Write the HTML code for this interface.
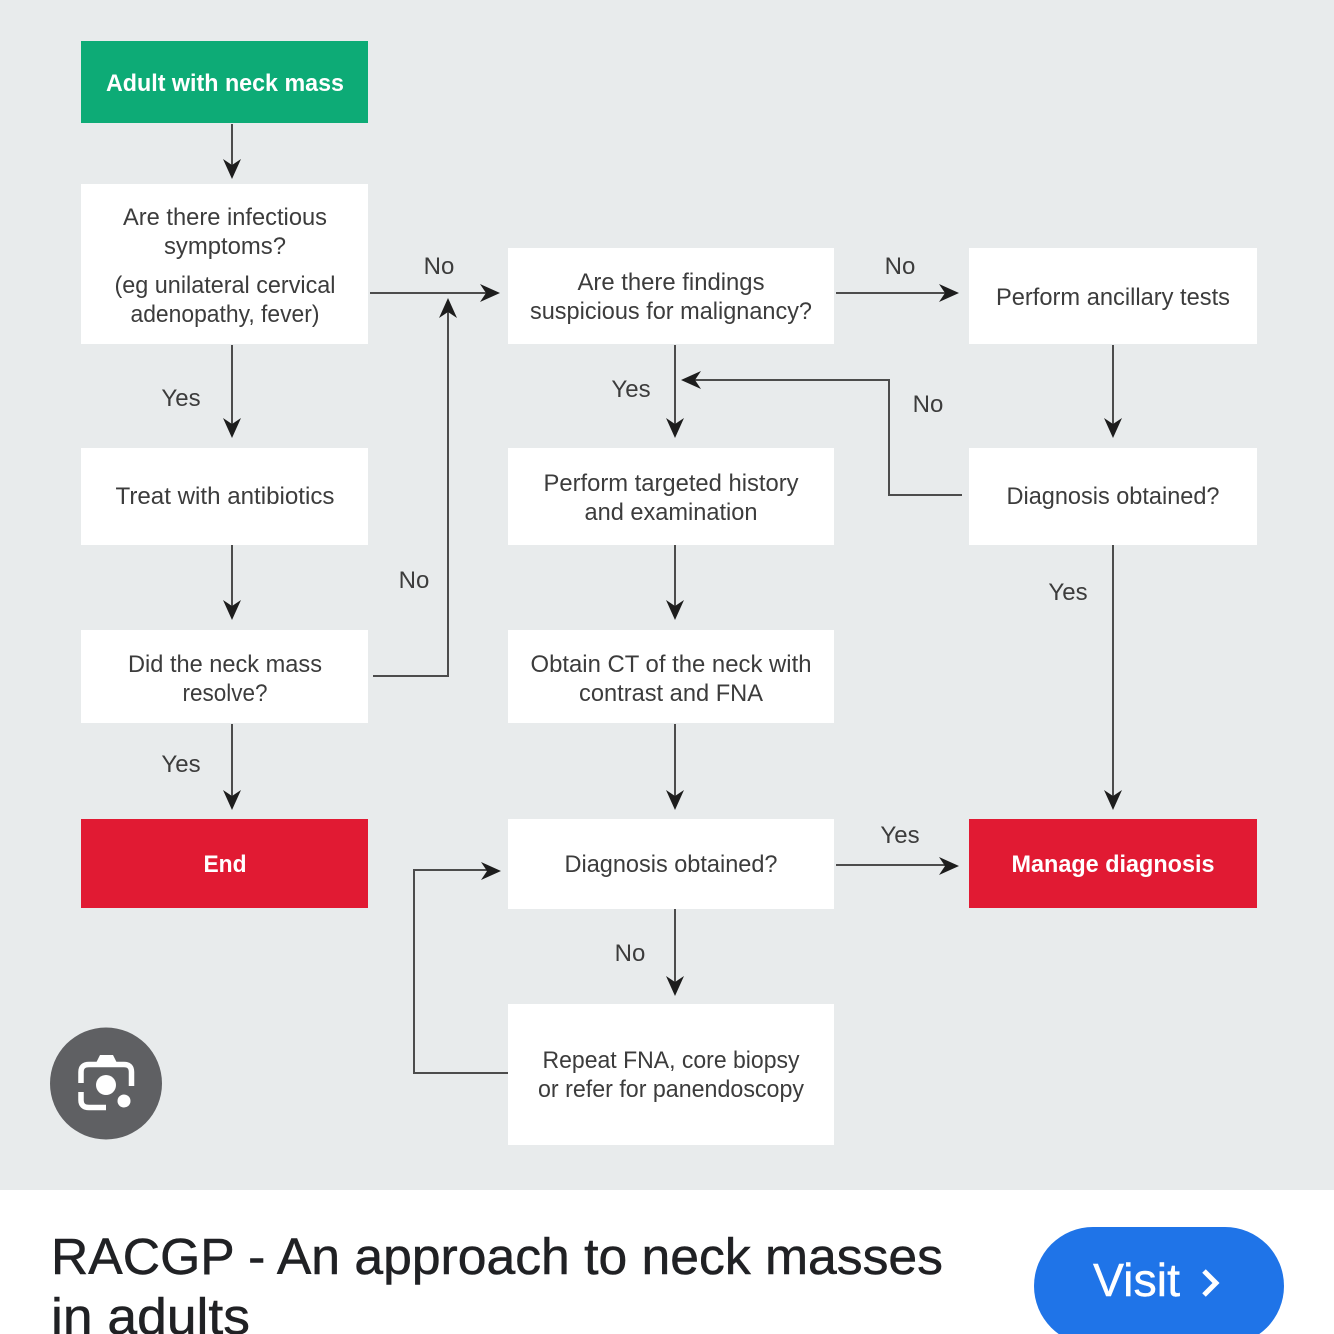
<!DOCTYPE html>
<html><head><meta charset="utf-8"><style>
html,body{margin:0;padding:0;background:#fff}
svg{display:block}
.t{font-family:"Liberation Sans",sans-serif;font-size:24px;fill:#3c3c3c;text-anchor:middle}
.b{font-weight:bold;fill:#fff}
.l{fill:none;stroke:#4c4c4c;stroke-width:2}
.h{font-family:"Liberation Sans",sans-serif;font-size:51px;fill:#202124;stroke:#202124;stroke-width:.5}
</style></head><body>
<svg width="1334" height="1334" viewBox="0 0 1334 1334" xmlns="http://www.w3.org/2000/svg">
<defs><path id="a" d="M0 0L-20 -9L-14 0L-20 9Z" fill="#1d1d1d"/></defs>
<rect width="1334" height="1190" fill="#e8ebec"/>
<rect x="81" y="41" width="287" height="82" fill="#0dab76"/>
<rect x="81" y="184" width="287" height="160" fill="#fff"/>
<rect x="81" y="448" width="287" height="97" fill="#fff"/>
<rect x="81" y="630" width="287" height="93" fill="#fff"/>
<rect x="81" y="819" width="287" height="89" fill="#e11a33"/>
<rect x="508" y="248" width="326" height="96" fill="#fff"/>
<rect x="508" y="448" width="326" height="97" fill="#fff"/>
<rect x="508" y="630" width="326" height="93" fill="#fff"/>
<rect x="508" y="819" width="326" height="90" fill="#fff"/>
<rect x="508" y="1004" width="326" height="141" fill="#fff"/>
<rect x="969" y="248" width="288" height="96" fill="#fff"/>
<rect x="969" y="448" width="288" height="97" fill="#fff"/>
<rect x="969" y="819" width="288" height="89" fill="#e11a33"/>

<path class="l" d="M232 124V165M232 345V425M232 545V607M232 724V797M370 293H488M836 293H946M675 345V425M675 545V607M675 724V797M1113 345V425M1113 545V797M836 865H946M675 909V983"/>
<path class="l" d="M373 676H448V312M962 495H889V380H694M508 1073H414V870H488"/>
<use href="#a" transform="translate(232 179) rotate(90)"/>
<use href="#a" transform="translate(232 438) rotate(90)"/>
<use href="#a" transform="translate(232 620) rotate(90)"/>
<use href="#a" transform="translate(232 810) rotate(90)"/>
<use href="#a" transform="translate(675 438) rotate(90)"/>
<use href="#a" transform="translate(675 620) rotate(90)"/>
<use href="#a" transform="translate(675 810) rotate(90)"/>
<use href="#a" transform="translate(675 996) rotate(90)"/>
<use href="#a" transform="translate(1113 438) rotate(90)"/>
<use href="#a" transform="translate(1113 810) rotate(90)"/>
<use href="#a" transform="translate(500 293)"/>
<use href="#a" transform="translate(959 293)"/>
<use href="#a" transform="translate(959 866)"/>
<use href="#a" transform="translate(501 871)"/>
<use href="#a" transform="translate(448 298) rotate(-90)"/>
<use href="#a" transform="translate(681 380) rotate(180)"/>

<text class="t b" x="225" y="91" textLength="238" lengthAdjust="spacingAndGlyphs">Adult with neck mass</text>
<text class="t" x="225" y="225" textLength="204" lengthAdjust="spacingAndGlyphs">Are there infectious</text>
<text class="t" x="225" y="254" textLength="122" lengthAdjust="spacingAndGlyphs">symptoms?</text>
<text class="t" x="225" y="293" textLength="221" lengthAdjust="spacingAndGlyphs">(eg unilateral cervical</text>
<text class="t" x="225" y="322" textLength="189" lengthAdjust="spacingAndGlyphs">adenopathy, fever)</text>
<text class="t" x="225" y="504" textLength="219" lengthAdjust="spacingAndGlyphs">Treat with antibiotics</text>
<text class="t" x="225" y="672" textLength="194" lengthAdjust="spacingAndGlyphs">Did the neck mass</text>
<text class="t" x="225" y="701" textLength="85" lengthAdjust="spacingAndGlyphs">resolve?</text>
<text class="t b" x="225" y="872" textLength="43" lengthAdjust="spacingAndGlyphs">End</text>
<text class="t" x="671" y="290" textLength="187" lengthAdjust="spacingAndGlyphs">Are there findings</text>
<text class="t" x="671" y="319" textLength="282" lengthAdjust="spacingAndGlyphs">suspicious for malignancy?</text>
<text class="t" x="671" y="491" textLength="255" lengthAdjust="spacingAndGlyphs">Perform targeted history</text>
<text class="t" x="671" y="520" textLength="173" lengthAdjust="spacingAndGlyphs">and examination</text>
<text class="t" x="671" y="672" textLength="281" lengthAdjust="spacingAndGlyphs">Obtain CT of the neck with</text>
<text class="t" x="671" y="701" textLength="184" lengthAdjust="spacingAndGlyphs">contrast and FNA</text>
<text class="t" x="671" y="872" textLength="213" lengthAdjust="spacingAndGlyphs">Diagnosis obtained?</text>
<text class="t" x="671" y="1068" textLength="257" lengthAdjust="spacingAndGlyphs">Repeat FNA, core biopsy</text>
<text class="t" x="671" y="1097" textLength="266" lengthAdjust="spacingAndGlyphs">or refer for panendoscopy</text>
<text class="t" x="1113" y="305" textLength="234" lengthAdjust="spacingAndGlyphs">Perform ancillary tests</text>
<text class="t" x="1113" y="504" textLength="213" lengthAdjust="spacingAndGlyphs">Diagnosis obtained?</text>
<text class="t b" x="1113" y="872" textLength="203" lengthAdjust="spacingAndGlyphs">Manage diagnosis</text>

<text class="t" x="439" y="274">No</text>
<text class="t" x="900" y="274">No</text>
<text class="t" x="928" y="412">No</text>
<text class="t" x="414" y="588">No</text>
<text class="t" x="630" y="961">No</text>
<text class="t" x="181" y="406">Yes</text>
<text class="t" x="631" y="397">Yes</text>
<text class="t" x="1068" y="600">Yes</text>
<text class="t" x="181" y="772">Yes</text>
<text class="t" x="900" y="843">Yes</text>

<circle cx="106" cy="1083.5" r="56" fill="#5f6063"/>
<path d="M81 1083V1072Q81 1064.5 89 1064.5H124Q131.5 1064.5 131.5 1072V1086M81 1092V1100Q81 1107.5 89 1107.5H106" fill="none" stroke="#fff" stroke-width="5.5"/>
<path d="M96 1063L100 1055H113L117 1063Z" fill="#fff"/>
<circle cx="106" cy="1085" r="10" fill="#fff"/>
<circle cx="124" cy="1101" r="6.5" fill="#fff"/>

<text class="h" x="51" y="1274" textLength="892" lengthAdjust="spacingAndGlyphs">RACGP - An approach to neck masses</text>
<text class="h" x="51" y="1334" textLength="199" lengthAdjust="spacingAndGlyphs">in adults</text>
<rect x="1034" y="1227" width="250" height="118" rx="59" fill="#1f74e8"/>
<text x="1093" y="1296" font-family="Liberation Sans, sans-serif" font-size="46" fill="#fff" stroke="#fff" stroke-width=".4" textLength="87" lengthAdjust="spacingAndGlyphs">Visit</text>
<path d="M1204 1271L1216 1283L1204 1295" fill="none" stroke="#fff" stroke-width="5"/>
</svg>
</body></html>
